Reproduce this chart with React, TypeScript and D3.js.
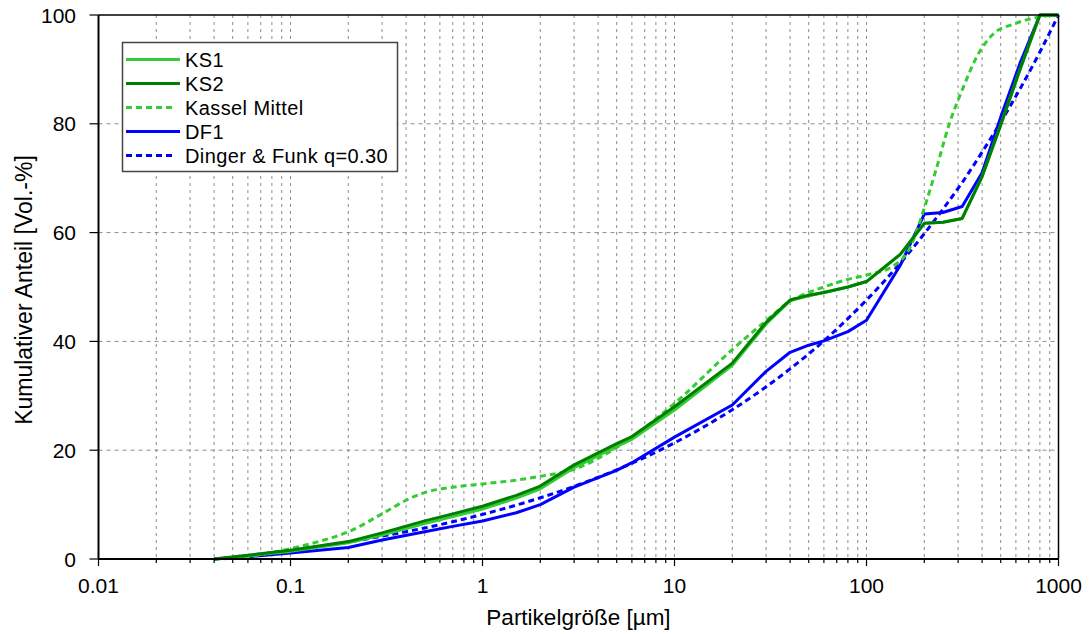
import React from "react";
import * as d3 from "d3";

// particle sizes [µm] for measured curves
const sizes = [0.04, 0.06, 0.1, 0.2, 0.3, 0.5, 0.7, 1, 1.5, 2, 3, 5, 6, 10, 20, 30, 40, 50, 60, 80, 100, 150, 200, 250, 315, 400, 500, 630, 800, 1000];
const ks1 = [0, 0.6, 1.4, 3.0, 4.4, 6.5, 7.8, 9.2, 11.2, 12.9, 16.8, 20.7, 22.0, 27.4, 35.6, 43.2, 47.5, 48.4, 49.0, 50.0, 51.0, 56.0, 61.7, 61.9, 62.6, 70.3, 79.8, 90.0, 100, 100];
const ks2 = [0, 0.7, 1.6, 3.2, 4.8, 7.0, 8.3, 9.7, 11.7, 13.4, 17.3, 21.2, 22.5, 28.0, 36.0, 43.5, 47.6, 48.5, 49.0, 50.0, 51.0, 56.0, 61.7, 61.9, 62.6, 70.3, 79.8, 90.0, 100, 100];
const df1 = [0, 0.4, 1.1, 2.1, 3.5, 5.0, 6.0, 7.0, 8.5, 10.0, 13.2, 16.3, 17.7, 22.4, 28.3, 34.5, 38.0, 39.3, 40.1, 41.8, 43.9, 54.0, 63.4, 63.7, 64.8, 71.0, 81.2, 91.1, 100, 100];
const dingerFunk = [0, 0.65, 1.6, 3.1, 4.2, 5.7, 6.85, 8.2, 9.9, 11.25, 13.35, 16.4, 17.6, 21.35, 27.45, 31.65, 34.96, 37.7, 40.1, 44.2, 47.6, 54.4, 59.8, 64.3, 69.2, 74.8, 80.3, 86.4, 93.2, 100];

const kasselSizes = [0.04, 0.06, 0.08, 0.1, 0.14, 0.2, 0.3, 0.4, 0.5, 0.7, 1, 1.5, 2, 3, 5, 10, 20, 30, 40, 50, 60, 80, 100, 140, 170, 200, 230, 270, 320, 375, 460, 580, 740, 900, 1000];
const kassel = [0, 0.4, 1.2, 1.9, 3.2, 5.0, 8.3, 10.8, 12.2, 13.2, 13.8, 14.5, 15.2, 16.5, 20.5, 28.6, 38.5, 43.8, 47.4, 49.0, 50.0, 51.4, 52.2, 54.0, 57.5, 64.5, 71.5, 80.0, 86.8, 92.3, 96.6, 98.3, 99.4, 99.9, 100];

const xTickValues = [0.01, 0.1, 1, 10, 100, 1000];
const xTickLabels = ["0.01", "0.1", "1", "10", "100", "1000"];
const yTickValues = [0, 20, 40, 60, 80, 100];

const legendNames = ["KS1", "KS2", "Kassel Mittel", "DF1", "Dinger & Funk q=0.30"];

const LIGHT = "#33cc33";
const DARK = "#008000";
const BLUE = "#0000ff";

export default function App() {
  const W = 1089, H = 634;
  const left = 98.5, right = 1058.5, top = 15, bottom = 559;
  const x = d3.scaleLog().domain([0.01, 1000]).range([left, right]);
  const y = d3.scaleLinear().domain([0, 100]).range([bottom, top]);

  const minorX: number[] = [];
  for (let e = -2; e < 3; e++) {
    for (let m = 1; m <= 9; m++) minorX.push(m * Math.pow(10, e));
  }
  minorX.push(1000);

  const mkLine = (xs: number[], curve: any) =>
    d3.line<number>().x((_, i) => x(xs[i])).y((v) => y(v)).curve(curve);

  const lin = d3.curveLinear;
  const mono = d3.curveMonotoneX;

  const series = [
    { name: legendNames[3], xs: sizes, ys: df1, color: BLUE, dash: null, curve: lin },
    { name: legendNames[4], xs: sizes, ys: dingerFunk, color: BLUE, dash: "6,4", curve: mono },
    { name: legendNames[2], xs: kasselSizes, ys: kassel, color: LIGHT, dash: "6,4", curve: mono },
    { name: legendNames[0], xs: sizes, ys: ks1, color: LIGHT, dash: null, curve: lin },
    { name: legendNames[1], xs: sizes, ys: ks2, color: DARK, dash: null, curve: lin },
  ];

  const legendItems = [
    { name: legendNames[0], color: LIGHT, dash: null },
    { name: legendNames[1], color: DARK, dash: null },
    { name: legendNames[2], color: LIGHT, dash: "6,4" },
    { name: legendNames[3], color: BLUE, dash: null },
    { name: legendNames[4], color: BLUE, dash: "6,4" },
  ];

  const font = "'Liberation Sans', Arial, Helvetica, sans-serif";

  return (
    <svg width={W} height={H} style={{ position: "absolute", left: 0, top: 0, background: "#fff" }} fontFamily={font}>
      <rect x={0} y={0} width={W} height={H} fill="#fff" />
      {/* vertical grid */}
      {minorX.map((v, i) => (
        <line key={"gx" + i} x1={x(v)} x2={x(v)} y1={top} y2={bottom} stroke="#8c8c8c" strokeWidth={1} strokeDasharray="3,4" />
      ))}
      {/* horizontal grid */}
      {yTickValues.slice(1, -1).map((v) => (
        <line key={"gy" + v} x1={left} x2={right} y1={y(v)} y2={y(v)} stroke="#8c8c8c" strokeWidth={1} strokeDasharray="4,4" />
      ))}
      {/* series */}
      {series.map((s) => (
        <path key={s.name} d={mkLine(s.xs, s.curve)(s.ys) || ""} fill="none" stroke={s.color} strokeWidth={3} strokeDasharray={s.dash || undefined} strokeLinejoin="round" />
      ))}
      {/* frame */}
      <line x1={left} x2={right} y1={top} y2={top} stroke="#000" strokeWidth={1.5} />
      <line x1={right} x2={right} y1={top} y2={bottom} stroke="#000" strokeWidth={1.5} />
      <line x1={left} x2={left} y1={top} y2={bottom} stroke="#000" strokeWidth={2} />
      <line x1={left} x2={right} y1={bottom} y2={bottom} stroke="#000" strokeWidth={2} />
      {/* x ticks */}
      {minorX.map((v, i) => {
        const major = xTickValues.indexOf(v) >= 0;
        return <line key={"tx" + i} x1={x(v)} x2={x(v)} y1={bottom} y2={bottom + (major ? 7 : 4)} stroke="#000" strokeWidth={1.2} />;
      })}
      {xTickValues.map((v, i) => (
        <text key={"lx" + i} x={x(v)} y={593} textAnchor="middle" fontSize={21} fill="#000">{xTickLabels[i]}</text>
      ))}
      {/* y ticks */}
      {yTickValues.map((v) => (
        <g key={"ty" + v}>
          <line x1={left - 9} x2={left} y1={y(v)} y2={y(v)} stroke="#000" strokeWidth={1.2} />
          <text x={76} y={y(v)} dy="0.36em" textAnchor="end" fontSize={21} fill="#000">{v}</text>
        </g>
      ))}
      {/* axis titles */}
      <text x={(left + right) / 2} y={625} textAnchor="middle" fontSize={22.5} fill="#000">Partikelgröße [µm]</text>
      <text transform={`translate(32, ${(top + bottom) / 2 + 3}) rotate(-90)`} textAnchor="middle" fontSize={23} fill="#000">Kumulativer Anteil [Vol.-%]</text>
      {/* legend */}
      <rect x={122.5} y={42.5} width={275} height={129} fill="#fff" stroke="#444" strokeWidth={1.5} />
      {legendItems.map((it, i) => {
        const cy = 59.5 + i * 24;
        return (
          <g key={"lg" + i}>
            <line x1={126} x2={it.dash ? 174 : 180} y1={cy} y2={cy} stroke={it.color} strokeWidth={3} strokeDasharray={it.dash || undefined} />
            <text x={185} y={cy} dy="0.36em" fontSize={20} letterSpacing={0.4} fill="#000">{it.name}</text>
          </g>
        );
      })}
    </svg>
  );
}
